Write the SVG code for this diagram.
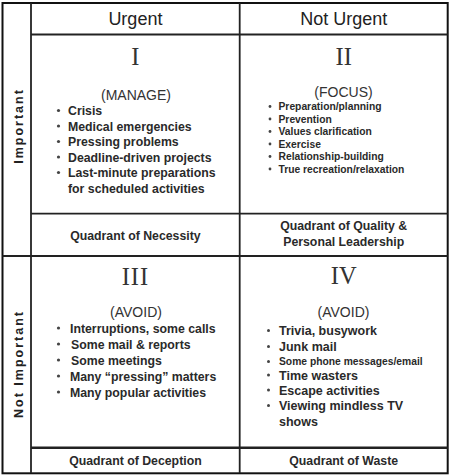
<svg xmlns="http://www.w3.org/2000/svg" width="450" height="476" viewBox="0 0 450 476">
<style>
.ln{stroke:#222;stroke-width:1.8;fill:none}
.hd{font-family:"Liberation Sans",Arial,sans-serif;font-size:18px;fill:#222;text-anchor:middle}
.rn{font-family:"Liberation Serif","Times New Roman",serif;font-size:24.5px;fill:#333;text-anchor:middle}
.tag{font-family:"Liberation Sans",Arial,sans-serif;font-size:14px;fill:#333;text-anchor:middle}
.it{font-family:"Liberation Sans",Arial,sans-serif;font-size:12.3px;font-weight:bold;fill:#2a2a2a}
.sm{font-family:"Liberation Sans",Arial,sans-serif;font-size:10.3px;font-weight:bold;fill:#2a2a2a}
.ft{font-family:"Liberation Sans",Arial,sans-serif;font-size:12.3px;font-weight:bold;fill:#2a2a2a;text-anchor:middle}
.side{font-family:"Liberation Sans",Arial,sans-serif;font-size:12.5px;font-weight:bold;fill:#222;text-anchor:middle;letter-spacing:2px}
.bl{fill:#444}
</style>
<rect width="450" height="476" fill="#fff"/>
<g id="connectors">
<rect x="2.5" y="3" width="445.2" height="470.3" fill="none" stroke="#111" stroke-width="2"/>
<line class="ln" x1="31" y1="3" x2="31" y2="473"/>
<line class="ln" x1="239.7" y1="3" x2="239.7" y2="473"/>
<line class="ln" x1="31" y1="34.5" x2="447.7" y2="34.5"/>
<line class="ln" x1="31" y1="213.7" x2="447.7" y2="213.7"/>
<line class="ln" x1="2.5" y1="256" x2="447.7" y2="256" style="stroke-width:2.2"/>
<line class="ln" x1="31" y1="447.7" x2="447.7" y2="447.7" style="stroke-width:2.5"/>
</g>
<g id="header-urgent"><text class="hd" x="135.4" y="25">Urgent</text></g>
<g id="header-not-urgent"><text class="hd" x="343.7" y="25">Not Urgent</text></g>
<g id="side-important"><text class="side" transform="translate(22.5,126) rotate(-90)">Important</text></g>
<g id="side-not-important"><text class="side" transform="translate(22.5,364) rotate(-90)">Not Important</text></g>
<g id="quadrant-1">
<text class="rn" x="135.4" y="64.5">I</text>
<text class="tag" x="136" y="100">(MANAGE)</text>
<g class="bl"><circle cx="58.5" cy="110.5" r="1.6"/><circle cx="58.5" cy="126" r="1.6"/><circle cx="58.5" cy="141.5" r="1.6"/><circle cx="58.5" cy="157" r="1.6"/><circle cx="58.5" cy="172.5" r="1.6"/></g>
<text class="it" x="68" y="115">Crisis</text>
<text class="it" x="68" y="130.5">Medical emergencies</text>
<text class="it" x="68" y="146">Pressing problems</text>
<text class="it" x="68" y="161.5">Deadline-driven projects</text>
<text class="it" x="68" y="177">Last-minute preparations</text>
<text class="it" x="68" y="192.5">for scheduled activities</text>
</g>
<g id="quadrant-2">
<text class="rn" x="343.7" y="64.5">II</text>
<text class="tag" x="343.5" y="97">(FOCUS)</text>
<g class="bl"><circle cx="270" cy="106.5" r="1.4"/><circle cx="270" cy="119" r="1.4"/><circle cx="270" cy="131.5" r="1.4"/><circle cx="270" cy="144" r="1.4"/><circle cx="270" cy="156.5" r="1.4"/><circle cx="270" cy="169" r="1.4"/></g>
<text class="sm" x="278.5" y="110">Preparation/planning</text>
<text class="sm" x="278.5" y="122.5">Prevention</text>
<text class="sm" x="278.5" y="135">Values clarification</text>
<text class="sm" x="278.5" y="147.5">Exercise</text>
<text class="sm" x="278.5" y="160">Relationship-building</text>
<text class="sm" x="278.5" y="172.5">True recreation/relaxation</text>
</g>
<g id="quadrant-3">
<text class="rn" x="135.4" y="285" letter-spacing="1">III</text>
<text class="tag" x="136" y="317">(AVOID)</text>
<g class="bl"><circle cx="58.5" cy="328" r="1.6"/><circle cx="58.5" cy="344" r="1.6"/><circle cx="58.5" cy="360" r="1.6"/><circle cx="58.5" cy="376" r="1.6"/><circle cx="58.5" cy="392" r="1.6"/></g>
<text class="it" x="70" y="332.5">Interruptions, some calls</text>
<text class="it" x="71" y="348.5">Some mail &amp; reports</text>
<text class="it" x="71" y="364.5">Some meetings</text>
<text class="it" x="70" y="380.5">Many “pressing” matters</text>
<text class="it" x="70" y="396.5">Many popular activities</text>
</g>
<g id="quadrant-4">
<text class="rn" x="343.7" y="283.5">IV</text>
<text class="tag" x="343.5" y="317">(AVOID)</text>
<g class="bl"><circle cx="268.5" cy="330.5" r="1.5"/><circle cx="268.5" cy="346.5" r="1.5"/><circle cx="268.5" cy="361.5" r="1.5"/><circle cx="268.5" cy="375" r="1.5"/><circle cx="268.5" cy="390" r="1.5"/><circle cx="268.5" cy="405.5" r="1.5"/></g>
<text class="it" x="279" y="335" style="font-size:12.5px">Trivia, busywork</text>
<text class="it" x="279" y="351" style="font-size:12.5px">Junk mail</text>
<text class="sm" x="279" y="365">Some phone messages/email</text>
<text class="it" x="279" y="379.5" style="font-size:12.5px">Time wasters</text>
<text class="it" x="279" y="394.5" style="font-size:12.5px">Escape activities</text>
<text class="it" x="279" y="410" style="font-size:12.5px">Viewing mindless TV</text>
<text class="it" x="279" y="425.5" style="font-size:12.5px">shows</text>
</g>
<g id="footer-1"><text class="ft" x="135.4" y="240">Quadrant of Necessity</text></g>
<g id="footer-2"><text class="ft" x="343.7" y="230">Quadrant of Quality &amp;</text><text class="ft" x="343.7" y="246">Personal Leadership</text></g>
<g id="footer-3"><text class="ft" x="135.4" y="465">Quadrant of Deception</text></g>
<g id="footer-4"><text class="ft" x="343.7" y="465">Quadrant of Waste</text></g>
</svg>
